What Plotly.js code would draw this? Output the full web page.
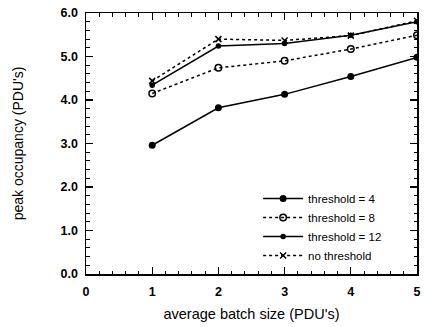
<!DOCTYPE html>
<html>
<head>
<meta charset="utf-8">
<script src="https://cdn.plot.ly/plotly-3.0.1.min.js"></script>
<style>html,body{margin:0;padding:0;background:#fff;}#chart{width:428px;height:327px;}</style>
</head>
<body>
<div id="chart"></div>
<script>
var batchSize = [1, 2, 3, 4, 5];
var threshold4 = [2.96, 3.82, 4.13, 4.54, 4.98];
var threshold8 = [4.15, 4.74, 4.90, 5.17, 5.49];
var threshold12 = [4.34, 5.24, 5.30, 5.49, 5.80];
var noThreshold = [4.44, 5.40, 5.37, 5.48, 5.82];
var seriesNames = ['threshold = 4', 'threshold = 8', 'threshold = 12', 'no threshold'];

var traces = [
  {x: batchSize, y: threshold4, name: seriesNames[0], mode: 'lines+markers',
   line: {color: '#000', width: 1.5, dash: 'solid'},
   marker: {symbol: 'circle', size: 7, color: '#000'}},
  {x: batchSize, y: threshold8, name: seriesNames[1], mode: 'lines+markers',
   line: {color: '#000', width: 1.5, dash: 'dot'},
   marker: {symbol: 'circle-open', size: 6.5, color: '#000', line: {width: 1.5}}},
  {x: batchSize, y: threshold12, name: seriesNames[2], mode: 'lines+markers',
   line: {color: '#000', width: 1.5, dash: 'solid'},
   marker: {symbol: 'circle', size: 5.5, color: '#000'}},
  {x: batchSize, y: noThreshold, name: seriesNames[3], mode: 'lines+markers',
   line: {color: '#000', width: 1.5, dash: 'dot'},
   marker: {symbol: 'x-thin-open', size: 6, color: '#000', line: {width: 1.5, color: '#000'}}}
];

var layout = {
  width: 428, height: 327,
  margin: {l: 86, r: 11, t: 13, b: 53},
  paper_bgcolor: '#fff', plot_bgcolor: '#fff',
  font: {family: 'Liberation Sans, Arial, sans-serif', color: '#000', size: 12},
  showlegend: true,
  legend: {x: 0.52, y: 0.345, xanchor: 'left', yanchor: 'top', bgcolor: 'rgba(0,0,0,0)',
           font: {size: 11.5}, tracegroupgap: 0, itemwidth: 40},
  xaxis: {
    range: [0, 5], tickmode: 'linear', tick0: 0, dtick: 1,
    ticks: 'inside', ticklen: 7, tickwidth: 1.2, tickcolor: '#000',
    minor: {dtick: 0.2, ticks: 'inside', ticklen: 3.5, tickwidth: 1, tickcolor: '#000'},
    showline: true, linecolor: '#000', linewidth: 1.5, mirror: 'ticks',
    showgrid: false, zeroline: false, ticklabelstandoff: 5,
    tickfont: {size: 12.5, family: 'Liberation Sans, Arial, sans-serif', weight: 'bold'},
    title: {text: "average batch size (PDU's)", font: {size: 14.5}, standoff: 11}
  },
  yaxis: {
    range: [0, 6], tickmode: 'linear', tick0: 0, dtick: 1, tickformat: '.1f',
    ticks: 'inside', ticklen: 7, tickwidth: 1.2, tickcolor: '#000',
    minor: {dtick: 0.2, ticks: 'inside', ticklen: 3.5, tickwidth: 1, tickcolor: '#000'},
    showline: true, linecolor: '#000', linewidth: 1.5, mirror: 'ticks',
    showgrid: false, zeroline: false, ticklabelstandoff: 4,
    tickfont: {size: 12.5, family: 'Liberation Sans, Arial, sans-serif', weight: 'bold'},
    title: {text: "peak occupancy (PDU's)", font: {size: 14}, standoff: 33}
  }
};

Plotly.newPlot('chart', traces, layout, {displayModeBar: false, staticPlot: true});
</script>
</body>
</html>
